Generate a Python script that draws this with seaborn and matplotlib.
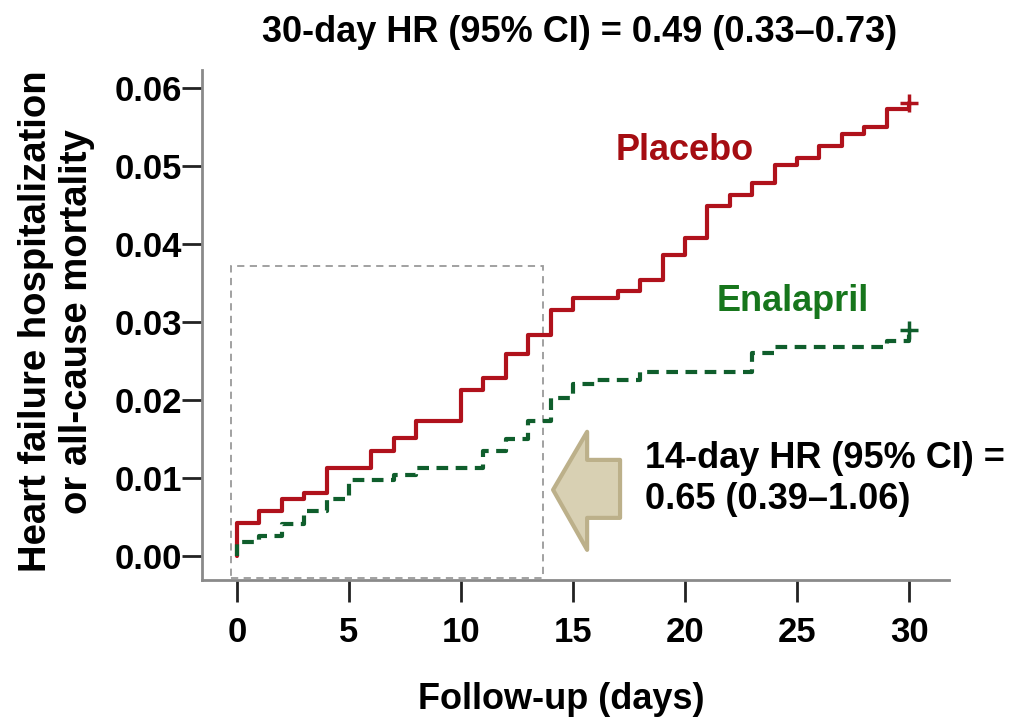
import pandas as pd
import matplotlib.pyplot as plt
import seaborn as sns
from matplotlib.patches import Rectangle, Polygon

# Courbes de Kaplan-Meier (incidence cumulée)
placebo_days = [0, 0, 1, 2, 3, 4, 6, 7, 8, 10, 11, 12, 13, 14, 15, 17, 18, 19,
                20, 21, 22, 23, 24, 25, 26, 27, 28, 29, 30]
placebo_risk = [0, 0.0042, 0.0057, 0.0073, 0.0081, 0.0112, 0.0135, 0.0151,
                0.0173, 0.0213, 0.0228, 0.0259, 0.0283, 0.0315, 0.0330, 0.0339,
                0.0354, 0.0386, 0.0407, 0.0448, 0.0463, 0.0478, 0.0501, 0.0510,
                0.0525, 0.0540, 0.0550, 0.0572, 0.0580]
enalapril_days = [0, 0, 1, 2, 3, 4, 5, 7, 8, 11, 12, 13, 14, 15, 16, 18, 23,
                  24, 29, 30]
enalapril_risk = [0, 0.0018, 0.0026, 0.0041, 0.0057, 0.0073, 0.0097, 0.0104,
                  0.0112, 0.0135, 0.0150, 0.0173, 0.0202, 0.0220, 0.0226,
                  0.0235, 0.0260, 0.0268, 0.0275, 0.0290]

x_ticks = [0, 5, 10, 15, 20, 25, 30]
y_ticks = [0.00, 0.01, 0.02, 0.03, 0.04, 0.05, 0.06]

title = "30-day HR (95% CI) = 0.49 (0.33–0.73)"
hr14 = "14-day HR (95% CI) =\n0.65 (0.39–1.06)"

red = "#b0121c"
green = "#0f5e2c"

df = pd.concat([
    pd.DataFrame({"day": placebo_days, "risk": placebo_risk, "group": "Placebo"}),
    pd.DataFrame({"day": enalapril_days, "risk": enalapril_risk, "group": "Enalapril"}),
], ignore_index=True)

sns.set_style("ticks")
plt.rcParams["font.family"] = ["Liberation Sans", "DejaVu Sans"]
plt.rcParams["font.weight"] = "bold"
plt.rcParams["text.color"] = "black"
plt.rcParams["axes.labelcolor"] = "black"

fig = plt.figure(figsize=(10.1, 7.26), dpi=100)
ax = fig.add_axes([0.2, 0.201, 0.74, 0.703])

sns.lineplot(data=df, x="day", y="risk", hue="group", style="group",
             palette={"Placebo": red, "Enalapril": green},
             dashes={"Placebo": "", "Enalapril": (2.8, 1.8)},
             drawstyle="steps-post", estimator=None, sort=False,
             linewidth=3, legend=False, ax=ax)

# marqueurs de censure en fin de suivi
ax.plot(placebo_days[-1], placebo_risk[-1], marker="+", color=red,
        markersize=13, mew=2.5)
ax.plot(enalapril_days[-1], enalapril_risk[-1], marker="+", color=green,
        markersize=13, mew=2.5)

# encadré des 14 premiers jours
box_x0, box_x1 = -0.27, 13.66
box_y0, box_y1 = -0.0028, 0.0371
ax.add_patch(Rectangle((box_x0, box_y0), box_x1 - box_x0, box_y1 - box_y0,
                       fill=False, edgecolor="#9a9a9a", lw=1.3,
                       linestyle=(0, (4, 3)), zorder=1))

# flèche vers l'encadré
arrow = [(14.11, 0.00846), (15.63, 0.0159), (15.63, 0.0123), (17.1, 0.0123),
         (17.1, 0.00487), (15.63, 0.00487), (15.63, 0.00077)]
ax.add_patch(Polygon(arrow, closed=True, facecolor="#d8d0b3",
                     edgecolor="#bcb08a", lw=3, joinstyle="round", zorder=2))

ax.text(18.2, 0.00987, hr14, fontsize=26, fontweight="bold", va="center",
        ha="left", linespacing=1.2)
ax.text(20.0, 0.0520, "Placebo", color="#a50d12", fontsize=26,
        fontweight="bold", ha="center", va="center")
ax.text(24.8, 0.0326, "Enalapril", color="#17761c", fontsize=26,
        fontweight="bold", ha="center", va="center")

ax.set_xlim(-1.56, 31.8)
ax.set_ylim(-0.0031, 0.0623)
ax.set_xticks(x_ticks)
ax.set_yticks(y_ticks)
ax.set_xticklabels([str(t) for t in x_ticks])
ax.set_yticklabels([f"{t:.2f}" for t in y_ticks])
ax.tick_params(axis="both", direction="out", width=2, color="#222222",
               labelsize=25, labelcolor="black")
ax.tick_params(axis="x", length=16, pad=10)
ax.tick_params(axis="y", length=14.5, pad=0)

sns.despine(ax=ax)
for s in ["left", "bottom"]:
    ax.spines[s].set_color("#8a8a8a")
    ax.spines[s].set_linewidth(2)

ax.set_xlabel("Follow-up (days)", fontsize=26, fontweight="bold")
ax.set_ylabel("Heart failure hospitalization\nor all-cause mortality",
              fontsize=27.5, fontweight="bold", linespacing=1.2)
ax.xaxis.set_label_coords(0.481, -0.2)
ax.yaxis.set_label_coords(-0.143, 0.507)

fig.text(0.574, 1 - 32 / 726, title, fontsize=26, fontweight="bold",
         ha="center", va="center")

fig.savefig("out.png", dpi=100)
